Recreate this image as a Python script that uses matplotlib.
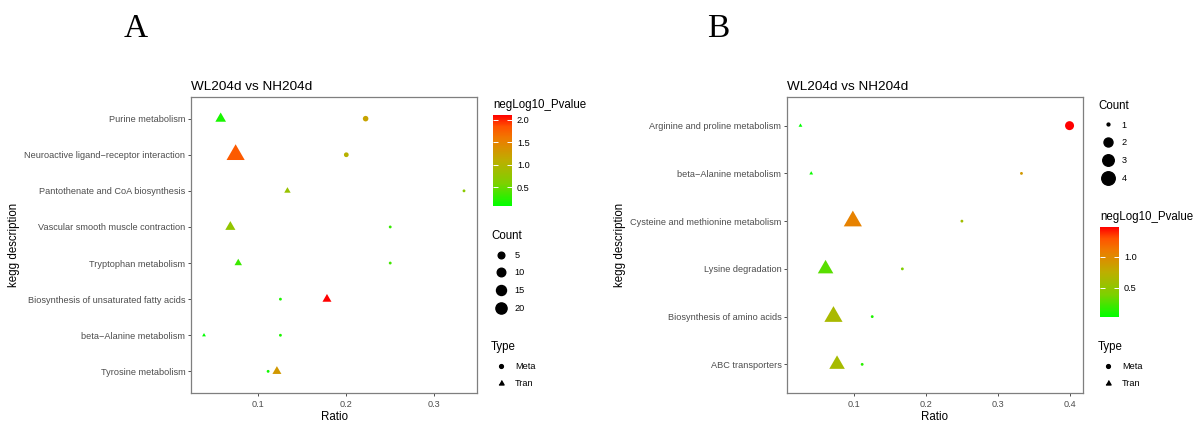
import numpy as np
import matplotlib
matplotlib.use('Agg')
import matplotlib.pyplot as plt
from matplotlib.colors import LinearSegmentedColormap, Normalize
from matplotlib.cm import ScalarMappable
from matplotlib.lines import Line2D

plt.rcParams['font.family'] = ['Liberation Sans', 'DejaVu Sans']

# ---- panel A data (rows listed top to bottom) ----
A_terms = ["Purine metabolism",
           "Neuroactive ligand\u2212receptor interaction",
           "Pantothenate and CoA biosynthesis",
           "Vascular smooth muscle contraction",
           "Tryptophan metabolism",
           "Biosynthesis of unsaturated fatty acids",
           "beta\u2212Alanine metabolism",
           "Tyrosine metabolism"]
A_meta_ratio = [0.222, 0.200, 0.334, 0.250, 0.250, 0.125, 0.125, 0.111]
A_meta_count = [3, 2, 1, 1, 1, 1, 1, 1]
A_meta_p = [1.20, 1.05, 0.70, 0.30, 0.35, 0.20, 0.20, 0.15]
A_tran_ratio = [0.057, 0.074, 0.133, 0.068, 0.077, 0.178, 0.038, 0.121]
A_tran_count = [8, 32, 2, 7, 3, 5, 1, 5]
A_tran_p = [0.18, 1.80, 0.80, 0.75, 0.33, 2.11, 0.085, 1.30]
A_count_breaks = [5, 10, 15, 20]
A_p_ticks = [0.5, 1.0, 1.5, 2.0]

# ---- panel B data ----
B_terms = ["Arginine and proline metabolism",
           "beta\u2212Alanine metabolism",
           "Cysteine and methionine metabolism",
           "Lysine degradation",
           "Biosynthesis of amino acids",
           "ABC transporters"]
B_meta_ratio = [0.400, 0.333, 0.250, 0.167, 0.125, 0.111]
B_meta_count = [2, 1, 1, 1, 1, 1]
B_meta_p = [1.48, 0.90, 0.60, 0.40, 0.12, 0.15]
B_tran_ratio = [0.025, 0.040, 0.098, 0.060, 0.071, 0.076]
B_tran_count = [1, 1, 4, 3, 4, 3]
B_tran_p = [0.03, 0.06, 1.05, 0.29, 0.64, 0.62]
B_count_breaks = [1, 2, 3, 4]
B_p_ticks = [0.5, 1.0]

W, H = 1194, 421
fig = plt.figure(figsize=(W / 100, H / 100), dpi=100)

cmap = LinearSegmentedColormap.from_list(
    'gr', [(0, '#00FF00'), (0.25, '#7ED000'), (0.5, '#BDAE00'),
           (0.75, '#F07800'), (0.875, '#FF5200'), (1, '#FF0000')])

# equilateral triangle like R's pch 17
TRI = [(0, 1.555), (1.347, -0.778), (-1.347, -0.778)]
PT = 0.72  # points per pixel at dpi 100
LEG_FS = 6.6
TITLE_FS = 8.3


def fx(px):
    return px / W


def fy(py):
    return 1 - py / H


def box(l, t, r, b):
    return [l / W, 1 - b / H, (r - l) / W, (b - t) / H]


def size_px(c, cmin, cmax):
    return 2.85 + 10.65 * np.sqrt((np.asarray(c, float) - cmin) / (cmax - cmin))


def panel(ax_box, terms, meta_r, meta_c, meta_p, tran_r, tran_c, tran_p):
    ax = fig.add_axes(box(*ax_box))
    n = len(terms)
    ypos = np.arange(n)[::-1]
    counts = np.concatenate([meta_c, tran_c])
    cmin, cmax = counts.min(), counts.max()
    pv = np.concatenate([meta_p, tran_p])
    norm = Normalize(pv.min(), pv.max())
    d_meta = size_px(meta_c, cmin, cmax) * PT
    d_tran = size_px(tran_c, cmin, cmax) * PT
    ax.scatter(meta_r, ypos, s=d_meta ** 2, c=meta_p, cmap=cmap, norm=norm,
               marker='o', linewidths=0)
    ax.scatter(tran_r, ypos, s=(1.555 * d_tran) ** 2, c=tran_p, cmap=cmap,
               norm=norm, marker=TRI, linewidths=0)
    ax.set_yticks(ypos, terms)
    ax.set_ylim(-0.6, n - 0.4)
    ax.set_xticks([0.1, 0.2, 0.3, 0.4])
    ax.margins(x=0.05)
    for sp in ax.spines.values():
        sp.set_color('#7F7F7F')
        sp.set_linewidth(0.9)
    ax.tick_params(length=2.5, width=0.6, color='#333333', labelsize=LEG_FS,
                   labelcolor='#4D4D4D', pad=1.5)
    ax.tick_params(axis='x', pad=2.5)
    ax.set_xlabel('Ratio', fontsize=TITLE_FS, labelpad=1.5)
    ax.set_ylabel('kegg description', fontsize=TITLE_FS, labelpad=3)
    ax.set_title('WL204d vs NH204d', loc='left', fontsize=9.7, pad=5)
    return ax, norm, cmin, cmax


def count_legend(x, y, breaks, cmin, cmax):
    handles = [Line2D([], [], marker='o', ls='', color='black',
                      markersize=size_px(b, cmin, cmax) * PT) for b in breaks]
    fig.legend(handles, [str(b) for b in breaks], title='Count',
               loc='upper left', bbox_to_anchor=(fx(x), fy(y)),
               frameon=False, borderpad=0, borderaxespad=0,
               fontsize=LEG_FS, title_fontsize=TITLE_FS, handlelength=2.2,
               handletextpad=0.4, labelspacing=0.95, alignment='left')


def type_legend(x, y):
    handles = [Line2D([], [], marker='o', ls='', color='black', markersize=3.8 * PT),
               Line2D([], [], marker=TRI, ls='', color='black',
                      markersize=1.555 * 3.8 * PT)]
    fig.legend(handles, ['Meta', 'Tran'], title='Type',
               loc='upper left', bbox_to_anchor=(fx(x), fy(y)),
               frameon=False, borderpad=0, borderaxespad=0,
               fontsize=LEG_FS, title_fontsize=TITLE_FS, handlelength=2.2,
               handletextpad=0.4, labelspacing=0.95, alignment='left')


def colorbar(x0, y0, x1, y1, norm, ticks):
    fig.text(fx(x0), fy(y0 - 10), 'negLog10_Pvalue', fontsize=TITLE_FS,
             ha='left', va='center')
    cax = fig.add_axes(box(x0, y0, x1, y1))
    cb = fig.colorbar(ScalarMappable(norm=norm, cmap=cmap), cax=cax, ticks=ticks)
    cb.outline.set_visible(False)
    cb.ax.set_yticklabels(['%.1f' % t for t in ticks])
    cax.tick_params(which='both', length=3.5, width=0.7, color='white',
                    direction='in', left=True, right=True,
                    labelsize=LEG_FS, pad=3.5)


# panel A
axA, normA, cminA, cmaxA = panel((191, 97, 477, 393), A_terms, A_meta_ratio,
                                 A_meta_count, A_meta_p, A_tran_ratio,
                                 A_tran_count, A_tran_p)
colorbar(493, 115, 512, 206, normA, A_p_ticks)
count_legend(491, 230, A_count_breaks, cminA, cmaxA)
type_legend(491, 341)

# panel B
axB, normB, cminB, cmaxB = panel((787, 97, 1083, 393), B_terms, B_meta_ratio,
                                 B_meta_count, B_meta_p, B_tran_ratio,
                                 B_tran_count, B_tran_p)
count_legend(1098, 100, B_count_breaks, cminB, cmaxB)
colorbar(1100, 227, 1119, 317, normB, B_p_ticks)
type_legend(1098, 341)

fig.text(fx(136), fy(29), 'A', fontsize=24, family='Liberation Serif',
         ha='center', va='center')
fig.text(fx(718), fy(29), 'B', fontsize=24, family='Liberation Serif',
         ha='center', va='center')

fig.savefig('out.png', dpi=100)
